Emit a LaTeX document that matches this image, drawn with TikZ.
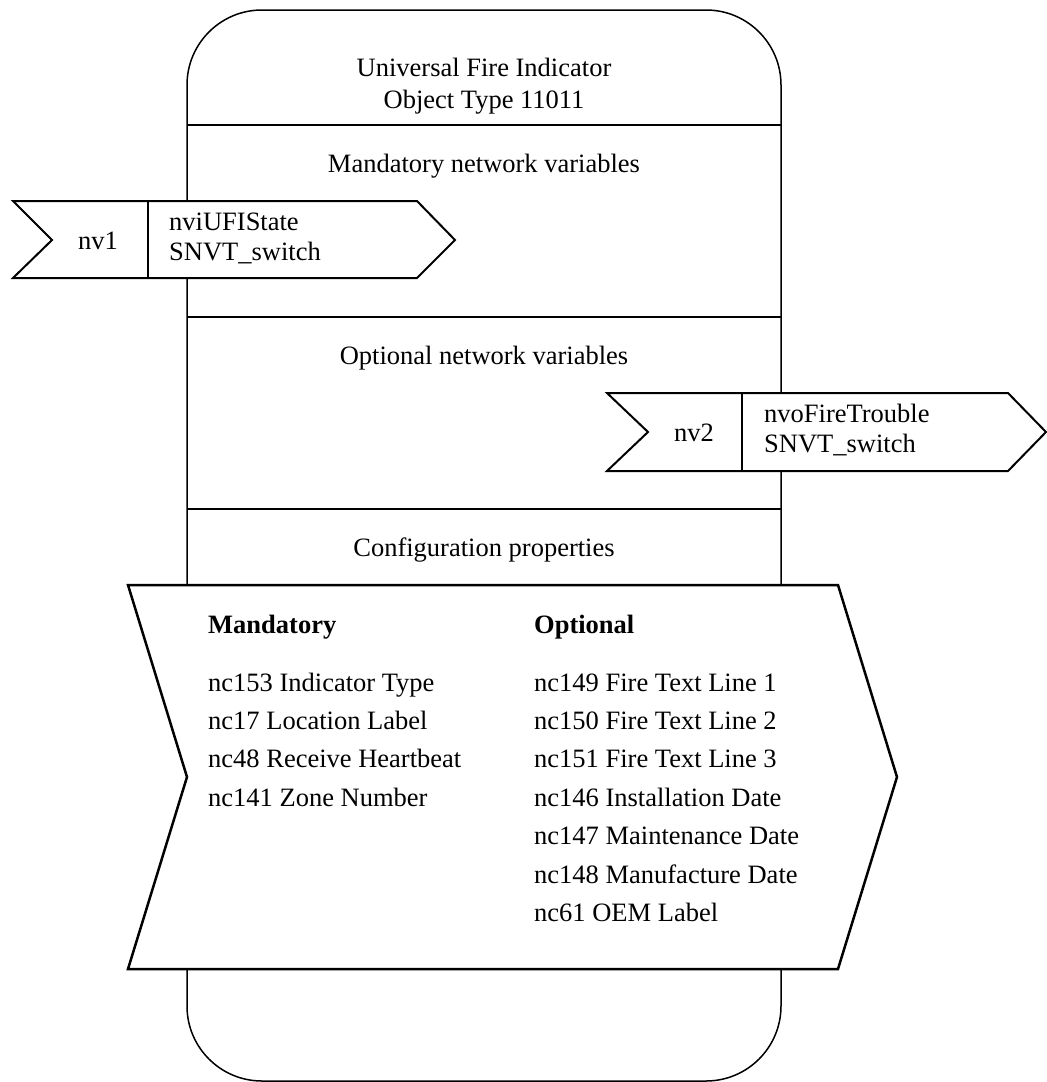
\documentclass[tikz,border=0pt]{standalone}
\usepackage{fontspec}
\setmainfont{Liberation Serif}
\begin{document}
\begin{tikzpicture}[x=1pt,y=-1pt,
  every node/.style={font=\fontsize{26.5}{31.8}\selectfont, inner sep=0pt},
  frame/.style={line width=1.5pt},
  nvshape/.style={draw, fill=white, line width=2pt, line join=miter},
  cpshape/.style={draw, fill=white, line width=2.5pt, line join=miter},
  txt/.style={anchor=base west},
  ctxt/.style={anchor=base}]
\useasboundingbox (0,0) rectangle (1047,1082);
% main object frame
\draw[frame, rounded corners=75pt] (187,10) rectangle (781,1081);
\draw[frame] (187,125) -- (781,125);
\draw[frame] (187,317) -- (781,317);
\draw[frame] (187,509) -- (781,509);
\node[ctxt] (t1) at (484,76) {Universal Fire Indicator};
\node[ctxt] (t2) at (484,108) {Object Type 11011};
\node[ctxt] (mnv) at (484,172) {Mandatory network variables};
\node[ctxt] (onv) at (484,364) {Optional network variables};
\node[ctxt] (cfg) at (484,556) {Configuration properties};
% nv1
\draw[nvshape] (13,201) -- (417,201) -- (455,240) -- (417,278) -- (13,278) -- (52,240) -- cycle;
\draw[line width=2pt] (148,201) -- (148,278);
\node[ctxt] (nv1) at (98,249) {nv1};
\node[txt] (nv1a) at (169,230) {nviUFIState};
\node[txt] (nv1b) at (169,260) {SNVT\_switch};
% nv2
\draw[nvshape] (607,393) -- (1008,393) -- (1046,432) -- (1008,471) -- (607,471) -- (648,432) -- cycle;
\draw[line width=2pt] (742,393) -- (742,471);
\node[ctxt] (nv2) at (694,441) {nv2};
\node[txt] (nv2a) at (764,422) {nvoFireTrouble};
\node[txt] (nv2b) at (764,452) {SNVT\_switch};
% configuration properties
\draw[cpshape] (128,585) -- (838,585) -- (897,777) -- (838,969) -- (128,969) -- (187,777) -- cycle;
\node[txt] (mh) at (208,633) {\bfseries Mandatory};
\node[txt] (oh) at (534,633) {\bfseries Optional};
\node[txt] (m1) at (208,691) {nc153 Indicator Type};
\node[txt] (m2) at (208,729) {nc17 Location Label};
\node[txt] (m3) at (208,767) {nc48 Receive Heartbeat};
\node[txt] (m4) at (208,806) {nc141 Zone Number};
\node[txt] (o1) at (534,691) {nc149 Fire Text Line 1};
\node[txt] (o2) at (534,729) {nc150 Fire Text Line 2};
\node[txt] (o3) at (534,767) {nc151 Fire Text Line 3};
\node[txt] (o4) at (534,806) {nc146 Installation Date};
\node[txt] (o5) at (534,844) {nc147 Maintenance Date};
\node[txt] (o6) at (534,883) {nc148 Manufacture Date};
\node[txt] (o7) at (534,921) {nc61 OEM Label};
\end{tikzpicture}
\end{document}
